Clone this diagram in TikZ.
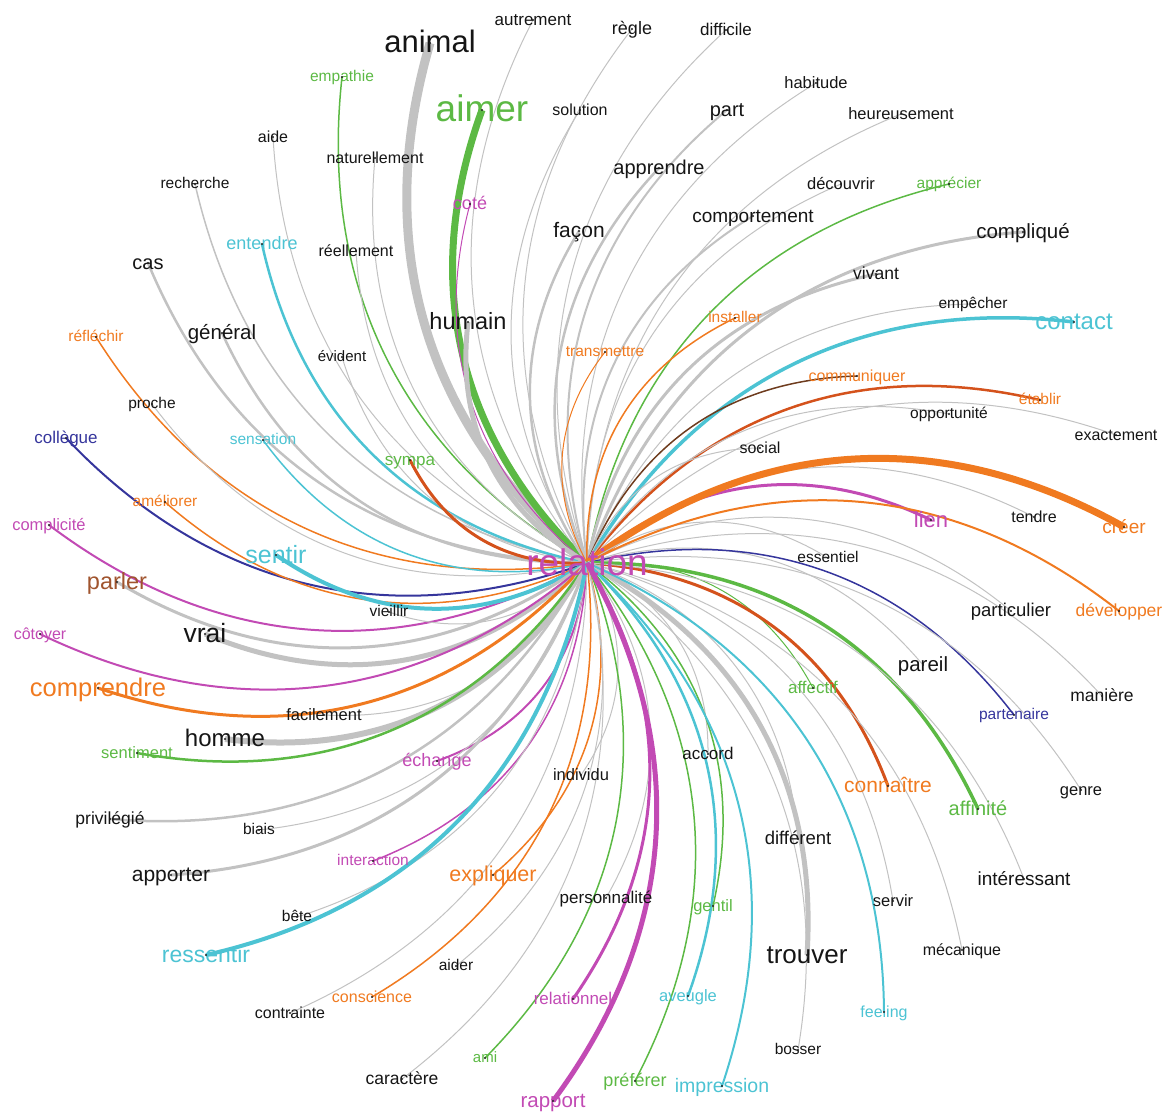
\documentclass[tikz,border=0pt]{standalone}
\usepackage{fontspec}
\setmainfont{Liberation Sans}
\usetikzlibrary{backgrounds}
\definecolor{k}{HTML}{151515}
\definecolor{lg}{HTML}{C2C2C2}
\definecolor{gn}{HTML}{5CB944}
\definecolor{cy}{HTML}{4CC3D3}
\definecolor{og}{HTML}{F07A20}
\definecolor{pu}{HTML}{C24AB4}
\definecolor{db}{HTML}{35359C}
\definecolor{br}{HTML}{A0542E}
\definecolor{ro}{HTML}{D4521C}
\definecolor{cb}{HTML}{6E3C1E}
\definecolor{dotc}{HTML}{202020}
\tikzset{wd/.style={inner sep=0pt, text depth=0pt}}
\newcommand\Wd[8]{%
  \node[wd,text height=\dimexpr #4pt*64/100\relax,font=\fontsize{#4}{#4}\selectfont,text=#5] (#1) at (#2,-#3) {#8};
  \begin{pgfonlayer}{background}
    \draw[draw=#6,line width=#7] (rel.center) to[bend left=33] (#1.center);
  \end{pgfonlayer}
  \fill[dotc] (#1.center) circle (1.1);
}
\begin{document}
\begin{tikzpicture}[x=1pt,y=1pt]
\useasboundingbox (0,0) rectangle (1166,-1113);
\node[wd,text height=24pt,font=\fontsize{37}{37}\selectfont,text=pu] (rel) at (587,-563) {relation};
\Wd{autrement}{533}{20}{17}{k}{lg}{1}{autrement}
\Wd{regle}{632}{29}{18}{k}{lg}{1}{règle}
\Wd{difficile}{726}{30}{17}{k}{lg}{1}{difficile}
\Wd{animal}{430}{43}{31}{k}{lg}{9}{animal}
\Wd{empathie}{342}{77}{15.5}{gn}{gn}{1.5}{empathie}
\Wd{aimer}{482}{110}{37}{gn}{gn}{7}{aimer}
\Wd{solution}{580}{110}{16}{k}{lg}{1}{solution}
\Wd{part}{727}{110}{20}{k}{lg}{2}{part}
\Wd{habitude}{816}{83}{16.5}{k}{lg}{1}{habitude}
\Wd{heureusement}{901}{114}{16.5}{k}{lg}{1}{heureusement}
\Wd{aide}{273}{137}{16}{k}{lg}{1}{aide}
\Wd{naturellement}{375}{158}{16}{k}{lg}{1}{naturellement}
\Wd{apprendre}{659}{168}{20}{k}{lg}{2.5}{apprendre}
\Wd{recherche}{195}{184}{15.5}{k}{lg}{1.5}{recherche}
\Wd{cote}{470}{204}{18}{pu}{pu}{1}{coté}
\Wd{decouvrir}{841}{184}{16.5}{k}{lg}{1}{découvrir}
\Wd{apprecier}{949}{184}{15.5}{gn}{gn}{1.5}{apprécier}
\Wd{comportement}{753}{216}{19}{k}{lg}{2}{comportement}
\Wd{facon}{579}{231}{21}{k}{lg}{2.5}{façon}
\Wd{complique}{1023}{232}{20.5}{k}{lg}{3}{compliqué}
\Wd{entendre}{262}{244}{18}{cy}{cy}{2.5}{entendre}
\Wd{reellement}{356}{251}{16}{k}{lg}{1}{réellement}
\Wd{cas}{148}{263}{20}{k}{lg}{2.5}{cas}
\Wd{vivant}{876}{274}{17.5}{k}{lg}{3}{vivant}
\Wd{empecher}{973}{304}{15.5}{k}{lg}{1}{empêcher}
\Wd{humain}{468}{322}{23.5}{k}{lg}{5}{humain}
\Wd{installer}{735}{318}{15.5}{og}{og}{1.5}{installer}
\Wd{contact}{1074}{322}{24}{cy}{cy}{3.5}{contact}
\Wd{general}{222}{333}{20.5}{k}{lg}{2.5}{général}
\Wd{reflechir}{96}{337}{15.5}{og}{og}{1.5}{réfléchir}
\Wd{transmettre}{605}{352}{15.5}{og}{og}{1}{transmettre}
\Wd{evident}{342}{357}{15}{k}{lg}{1}{évident}
\Wd{communiquer}{857}{376}{16}{og}{cb}{1.5}{communiquer}
\Wd{etablir}{1040}{400}{15.5}{og}{ro}{2.5}{établir}
\Wd{proche}{152}{404}{15.5}{k}{lg}{1}{proche}
\Wd{opportunite}{949}{414}{15.5}{k}{lg}{1}{opportunité}
\Wd{exactement}{1116}{435}{16}{k}{lg}{1}{exactement}
\Wd{collegue}{66}{438}{17}{db}{db}{2}{collègue}
\Wd{sensation}{263}{440}{15.5}{cy}{cy}{1.5}{sensation}
\Wd{social}{760}{448}{16}{k}{lg}{1}{social}
\Wd{sympa}{410}{460}{17}{gn}{ro}{3}{sympa}
\Wd{ameliorer}{165}{502}{15.5}{og}{og}{1.5}{améliorer}
\Wd{tendre}{1034}{517}{16}{k}{lg}{1}{tendre}
\Wd{lien}{931}{520}{22}{pu}{pu}{3}{lien}
\Wd{creer}{1124}{527}{19}{og}{og}{7}{créer}
\Wd{complicite}{49}{525}{16.5}{pu}{pu}{2}{complicité}
\Wd{sentir}{276}{555}{25}{cy}{cy}{4}{sentir}
\Wd{essentiel}{828}{558}{15.5}{k}{lg}{1}{essentiel}
\Wd{parler}{117}{582}{23.5}{br}{lg}{3}{parler}
\Wd{vieillir}{389}{612}{15.5}{k}{lg}{1}{vieillir}
\Wd{particulier}{1011}{611}{18.5}{k}{lg}{1}{particulier}
\Wd{developper}{1119}{611}{17.5}{og}{og}{2}{développer}
\Wd{vrai}{205}{634}{26.5}{k}{lg}{5}{vrai}
\Wd{cotoyer}{40}{634}{16}{pu}{pu}{2}{côtoyer}
\Wd{pareil}{923}{665}{20.5}{k}{lg}{1}{pareil}
\Wd{comprendre}{98}{688}{25.5}{og}{og}{3}{comprendre}
\Wd{affectif}{813}{688}{17}{gn}{gn}{1}{affectif}
\Wd{maniere}{1102}{696}{17.5}{k}{lg}{1}{manière}
\Wd{partenaire}{1014}{715}{15.5}{db}{db}{1.5}{partenaire}
\Wd{facilement}{324}{715}{16.5}{k}{lg}{1}{facilement}
\Wd{homme}{225}{739}{24}{k}{lg}{6}{homme}
\Wd{sentiment}{137}{753}{16.5}{gn}{gn}{2.5}{sentiment}
\Wd{accord}{708}{754}{17}{k}{lg}{1}{accord}
\Wd{echange}{437}{761}{18}{pu}{pu}{2}{échange}
\Wd{individu}{581}{775}{16.5}{k}{lg}{1}{individu}
\Wd{connaitre}{888}{786}{21}{og}{ro}{3}{connaître}
\Wd{genre}{1081}{790}{16.5}{k}{lg}{1}{genre}
\Wd{affinite}{978}{809}{20}{gn}{gn}{3.5}{affinité}
\Wd{privilegie}{110}{819}{17.5}{k}{lg}{2.5}{privilégié}
\Wd{biais}{259}{830}{15.5}{k}{lg}{1}{biais}
\Wd{different}{798}{839}{18.5}{k}{lg}{1}{différent}
\Wd{interaction}{373}{861}{15.5}{pu}{pu}{1.5}{interaction}
\Wd{apporter}{171}{875}{21}{k}{lg}{3}{apporter}
\Wd{expliquer}{493}{875}{21.5}{og}{og}{1.5}{expliquer}
\Wd{interessant}{1024}{879}{19}{k}{lg}{1}{intéressant}
\Wd{personnalite}{606}{898}{17}{k}{lg}{1}{personnalité}
\Wd{gentil}{713}{906}{16.5}{gn}{gn}{1.5}{gentil}
\Wd{servir}{893}{901}{16.5}{k}{lg}{1}{servir}
\Wd{bete}{297}{917}{15.5}{k}{lg}{1}{bête}
\Wd{trouver}{807}{955}{26}{k}{lg}{5}{trouver}
\Wd{mecanique}{962}{950}{16}{k}{lg}{1}{mécanique}
\Wd{ressentir}{206}{955}{23}{cy}{cy}{4}{ressentir}
\Wd{aider}{456}{966}{15.5}{k}{lg}{1}{aider}
\Wd{conscience}{372}{997}{16}{og}{og}{1.5}{conscience}
\Wd{aveugle}{688}{996}{16.5}{cy}{cy}{2.5}{aveugle}
\Wd{relationnel}{573}{999}{17}{pu}{pu}{3}{relationnel}
\Wd{contrainte}{290}{1013}{16}{k}{lg}{1}{contrainte}
\Wd{feeling}{884}{1012}{16}{cy}{cy}{2}{feeling}
\Wd{ami}{485}{1058}{15}{gn}{gn}{1.5}{ami}
\Wd{bosser}{798}{1050}{15.5}{k}{lg}{1}{bosser}
\Wd{caractere}{402}{1079}{17.5}{k}{lg}{1}{caractère}
\Wd{preferer}{635}{1081}{18}{gn}{gn}{1.5}{préférer}
\Wd{impression}{722}{1086}{19.5}{cy}{cy}{2}{impression}
\Wd{rapport}{553}{1101}{20.5}{pu}{pu}{5}{rapport}
\end{tikzpicture}
\end{document}
